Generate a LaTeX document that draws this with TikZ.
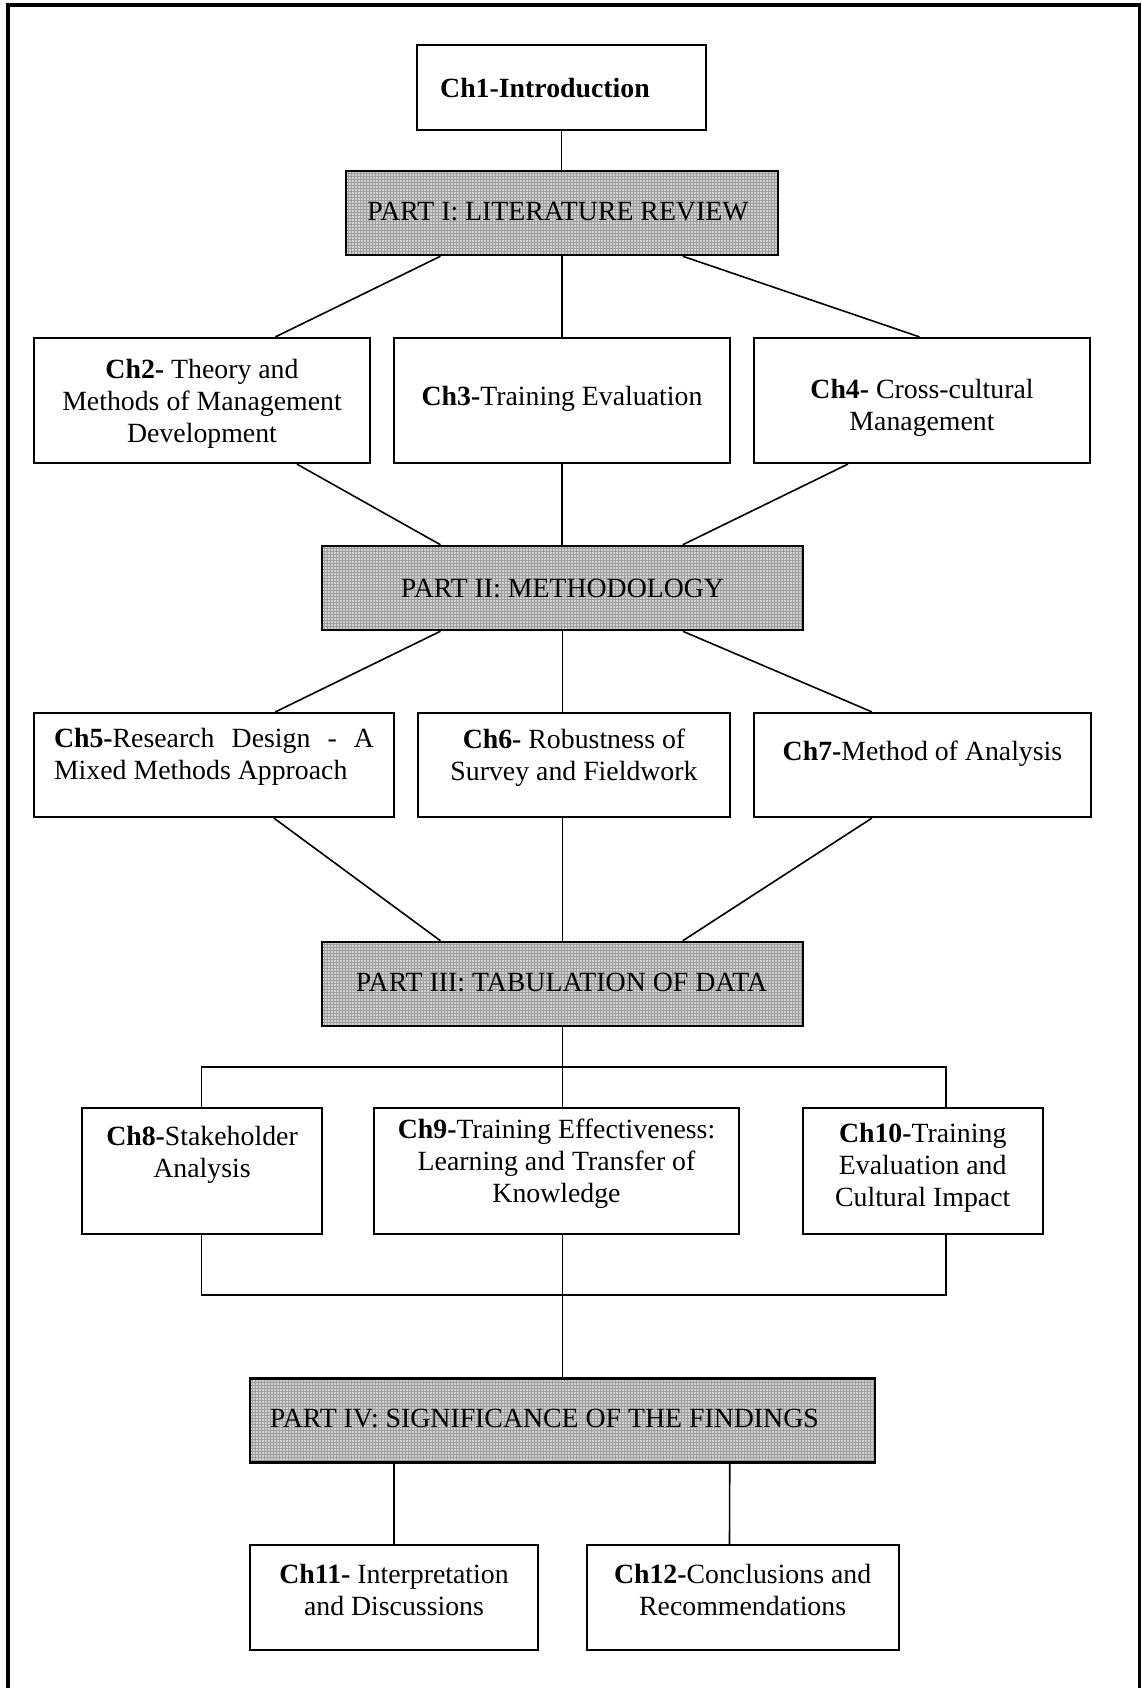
\documentclass[tikz,border=0pt]{standalone}
\usepackage{fontspec}
\setmainfont{Liberation Serif}
\usetikzlibrary{calc,patterns}
\begin{document}
\begin{tikzpicture}[x=1pt,y=-1pt,
  box/.style={draw=black,line width=2.2pt,fill=white,rectangle,inner sep=0pt},
  partbox/.style={draw=black,line width=2.5pt,rectangle,inner sep=0pt,
    preaction={fill=black!18},pattern=grid,pattern color=black!38},
  txt/.style={font=\fontsize{27.8}{32}\selectfont,align=center,inner sep=0pt},
  conn/.style={line width=1.6pt}]
\clip (0,0) rectangle (1141,1688);
\useasboundingbox (0,0) rectangle (1141,1688);
\fill[white] (0,0) rectangle (1141,1688);
% outer frame
\draw[line width=3.5pt] (8,1700) -- (8,5) -- (1139.5,5) -- (1139.5,1700);

% boxes
\node[box,minimum width=289pt,minimum height=85pt] (ch1) at (561.5,87.5) {};
\node[partbox,minimum width=432pt,minimum height=84pt] (p1) at (562,213) {};
\node[box,minimum width=336pt,minimum height=125pt] (ch2) at (202,400.5) {};
\node[box,minimum width=336pt,minimum height=125pt] (ch3) at (562,400.5) {};
\node[box,minimum width=336pt,minimum height=125pt] (ch4) at (922,400.5) {};
\node[partbox,minimum width=481pt,minimum height=84pt] (p2) at (562.5,588) {};
\node[box,minimum width=360pt,minimum height=104pt] (ch5) at (214,765) {};
\node[box,minimum width=312pt,minimum height=104pt] (ch6) at (574,765) {};
\node[box,minimum width=337pt,minimum height=104pt] (ch7) at (922.5,765) {};
\node[partbox,minimum width=481pt,minimum height=84pt] (p3) at (562.5,984) {};
\node[box,minimum width=240pt,minimum height=126pt] (ch8) at (202,1171) {};
\node[box,minimum width=365pt,minimum height=126pt] (ch9) at (556.5,1171) {};
\node[box,minimum width=240pt,minimum height=126pt] (ch10) at (922.7,1171) {};
\node[partbox,minimum width=625pt,minimum height=84pt] (p4) at (562.5,1420.6) {};
\node[box,minimum width=288.5pt,minimum height=105pt] (ch11) at (394,1597.5) {};
\node[box,minimum width=312pt,minimum height=105pt] (ch12) at (742.6,1597.5) {};

% texts
\node[txt] (t1) at ($(ch1.center)+(-16.5,0.5)$) {\textbf{Ch1-Introduction}};
\node[txt] (tp1) at ($(p1.center)+(-4,-1)$) {PART I: LITERATURE REVIEW};
\node[txt] (t2) at ($(ch2.center)+(0,3.5)$) {\textbf{Ch2-} Theory and\\Methods of Management\\Development};
\node[txt] (t3) at ($(ch3.center)+(0,-2)$) {\textbf{Ch3-}Training Evaluation};
\node[txt] (t4) at ($(ch4.center)+(0,7)$) {\textbf{Ch4-} Cross-cultural\\Management};
\node[txt] (tp2) at ($(p2.center)+(0,0)$) {PART II: METHODOLOGY};
\node[txt,align=left] (t5) at ($(ch5.center)+(0,-8)$) {\makebox[320pt][s]{\textbf{Ch5-}Research Design - A}\\Mixed Methods Approach};
\node[txt] (t6) at ($(ch6.center)+(0,-7)$) {\textbf{Ch6-} Robustness of\\Survey and Fieldwork};
\node[txt] (t7) at ($(ch7.center)+(0,-11)$) {\textbf{Ch7-}Method of Analysis};
\node[txt] (tp3) at ($(p3.center)+(-1,-2)$) {PART III: TABULATION OF DATA};
\node[txt] (t8) at ($(ch8.center)+(0,-16)$) {\textbf{Ch8-}Stakeholder\\Analysis};
\node[txt] (t9) at ($(ch9.center)+(0,-7)$) {\textbf{Ch9-}Training Effectiveness:\\Learning and Transfer of\\Knowledge};
\node[txt] (t10) at ($(ch10.center)+(0,-3)$) {\textbf{Ch10-}Training\\Evaluation and\\Cultural Impact};
\node[txt,anchor=west] (tp4) at ($(p4.west)+(21,-2)$) {PART IV: SIGNIFICANCE OF THE FINDINGS};
\node[txt] (t11) at ($(ch11.center)+(0,-7.5)$) {\textbf{Ch11-} Interpretation\\and Discussions};
\node[txt] (t12) at ($(ch12.center)+(0,-7.5)$) {\textbf{Ch12-}Conclusions and\\Recommendations};

% connectors
\draw[conn] (ch1.south) -- (ch1.south |- p1.north);
\draw[conn] ($(p1.south west)+(95.7,0)$) -- ($(ch2.north west)+(242.5,0)$);
\draw[conn] (p1.south -| ch3.north) -- (ch3.north);
\draw[conn] ($(p1.south west)+(338,0)$) -- ($(ch4.north west)+(166.6,0)$);

\draw[conn] ($(ch2.south west)+(264,0)$) -- ($(p2.north west)+(119.7,0)$);
\draw[conn] (ch3.south) -- (ch3.south |- p2.north);
\draw[conn] ($(ch4.south west)+(95,0)$) -- ($(p2.north west)+(362,0)$);

\draw[conn] ($(p2.south west)+(119.7,0)$) -- ($(ch5.north west)+(242.5,0)$);
\draw[conn] (p2.south) -- (p2.south |- ch6.north);
\draw[conn] ($(p2.south west)+(362,0)$) -- ($(ch7.north west)+(119,0)$);

\draw[conn] ($(ch5.south west)+(241,0)$) -- ($(p3.north west)+(119.7,0)$);
\draw[conn] (p2.south |- ch6.south) -- (p3.north);
\draw[conn] ($(ch7.south west)+(119,0)$) -- ($(p3.north west)+(362,0)$);

\coordinate (busT) at (562.5,1067);
\coordinate (busB) at (562.5,1295);
\coordinate (xL) at (201.6,0);
\coordinate (xR) at (946,0);
\draw[conn] (p3.south) -- (busT);
\draw[conn] (xL |- ch8.north) -- (xL |- busT) -- (xR |- busT) -- (xR |- ch10.north);
\draw[conn] (busT) -- (busT |- ch9.north);
\draw[conn] (xL |- ch8.south) -- (xL |- busB) -- (xR |- busB) -- (xR |- ch10.south);
\draw[conn] (busT |- ch9.south) -- (p4.north);

\draw[conn] (ch11.north |- p4.south) -- (ch11.north);
\draw[conn] ($(p4.south west)+(481,0)$) -- ($(ch12.north west)+(144,0)$);
\end{tikzpicture}
\end{document}
